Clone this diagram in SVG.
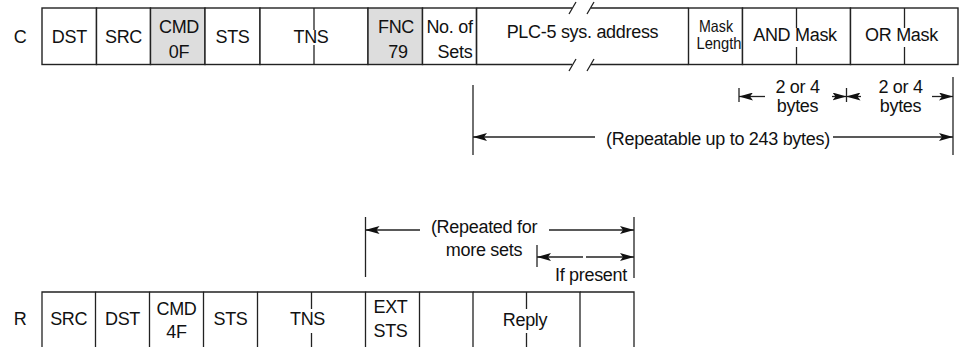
<svg xmlns="http://www.w3.org/2000/svg" width="959" height="347" viewBox="0 0 959 347">
<style>
text{font-family:"Liberation Sans",Arial,sans-serif;font-size:18px;letter-spacing:-0.3px;fill:#111;text-anchor:middle}
.sm{font-size:16.5px;letter-spacing:0}
.ln{stroke:#222;stroke-width:1.3;fill:none}
.box{stroke:#222;stroke-width:1.4;fill:#fff}
.gray{fill:#dddddd}
.end{text-anchor:end}
</style>
<defs>
<marker id="ah" viewBox="0 0 14 8" refX="14" refY="4" markerWidth="14" markerHeight="8" markerUnits="userSpaceOnUse" orient="auto">
<path d="M0,0 L14,4 L0,8 L3,4 z" fill="#111"/>
</marker>
</defs>
<rect width="959" height="347" fill="#fff"/>

<g id="label-C"><text x="20" y="43">C</text></g>
<g id="label-R"><text x="20" y="325">R</text></g>

<!-- Command row -->
<g id="c-dst"><rect class="box" x="42" y="8" width="54.5" height="56.5"/><text x="69.3" y="43">DST</text></g>
<g id="c-src"><rect class="box" x="96.5" y="8" width="54" height="56.5"/><text x="123.5" y="43">SRC</text></g>
<g id="c-cmd"><rect class="box gray" x="150.5" y="8" width="54.5" height="56.5"/><text x="179" y="33">CMD</text><text x="179" y="58">0F</text></g>
<g id="c-sts"><rect class="box" x="205" y="8" width="55" height="56.5"/><text x="232.5" y="43">STS</text></g>
<g id="c-tns"><rect class="box" x="260" y="8" width="108" height="56.5"/><line class="ln" x1="314" y1="8" x2="314" y2="30"/><line class="ln" x1="314" y1="45" x2="314" y2="64.5"/><text x="311" y="43">TNS</text></g>
<g id="c-fnc"><rect class="box gray" x="368" y="8" width="54.5" height="56.5"/><text x="396" y="33">FNC</text><text x="398" y="58">79</text></g>
<g id="c-nsets"><rect class="box" x="422.5" y="8" width="54" height="56.5"/><text x="449.5" y="33">No. of</text><text x="455" y="58">Sets</text></g>
<g id="c-plc">
<path class="ln" d="M476.5,8 H572 M591,8 H688.5 M476.5,64.5 H572 M591,64.5 H688.5 M476.5,8 V64.5"/>
<path class="ln" d="M569,14 L576,2 M587,14 L594,2 M569,71 L576,59 M587,71 L594,59"/>
<text x="582.5" y="38">PLC-5 sys. address</text>
</g>
<g id="c-masklen"><rect class="box" x="688.5" y="8" width="54" height="56.5"/><text class="sm" x="716" y="32" textLength="34" lengthAdjust="spacingAndGlyphs">Mask</text><text class="sm" x="719" y="49" textLength="45" lengthAdjust="spacingAndGlyphs">Length</text></g>
<g id="c-and"><rect class="box" x="742.5" y="8" width="108" height="56.5"/><line class="ln" x1="796.5" y1="8" x2="796.5" y2="28"/><line class="ln" x1="796.5" y1="47" x2="796.5" y2="64.5"/><text x="795" y="41">AND Mask</text></g>
<g id="c-or"><rect class="box" x="850.5" y="8" width="107.5" height="56.5"/><line class="ln" x1="904.5" y1="8" x2="904.5" y2="28"/><line class="ln" x1="904.5" y1="47" x2="904.5" y2="64.5"/><text x="901.5" y="41">OR Mask</text></g>

<!-- Reply row -->
<g id="r-src"><path class="ln" d="M42,347 V292 H95.5 V347"/><text x="68.7" y="325">SRC</text></g>
<g id="r-dst"><path class="ln" d="M95.5,292 H149.5 V347"/><text x="122.5" y="325">DST</text></g>
<g id="r-cmd"><path class="ln" d="M149.5,292 H203.5 V347"/><text x="176.5" y="315">CMD</text><text x="176.5" y="338">4F</text></g>
<g id="r-sts"><path class="ln" d="M203.5,292 H257.5 V347"/><text x="230.5" y="325">STS</text></g>
<g id="r-tns"><path class="ln" d="M257.5,292 H365.5 V347 M311.5,292 V309 M311.5,333 V347"/><text x="307.5" y="325">TNS</text></g>
<g id="r-extsts"><path class="ln" d="M365.5,292 H419.5 V347"/><text x="390.5" y="313">EXT</text><text x="390.5" y="337">STS</text></g>
<g id="r-blank"><path class="ln" d="M419.5,292 H473 V347"/></g>
<g id="r-reply"><path class="ln" d="M473,292 H580 V347 M526.5,292 V309 M526.5,333 V347"/><text x="525" y="326">Reply</text></g>
<g id="r-last"><path class="ln" d="M580,292 H634 V347"/></g>

<!-- Connectors / dimension lines -->
<g id="connectors">
<line class="ln" x1="473" y1="85" x2="473" y2="155"/>
<line class="ln" x1="739" y1="88" x2="739" y2="102"/>
<line class="ln" x1="846.5" y1="88" x2="846.5" y2="102"/>
<line class="ln" x1="953" y1="77" x2="953" y2="155"/>
<line class="ln" x1="765" y1="96.5" x2="739" y2="96.5" marker-end="url(#ah)"/>
<line class="ln" x1="832" y1="96.5" x2="846.5" y2="96.5" marker-end="url(#ah)"/>
<line class="ln" x1="861" y1="96.5" x2="846.5" y2="96.5" marker-end="url(#ah)"/>
<line class="ln" x1="932" y1="96.5" x2="953" y2="96.5" marker-end="url(#ah)"/>
<line class="ln" x1="595" y1="137" x2="473" y2="137" marker-end="url(#ah)"/>
<line class="ln" x1="833" y1="137" x2="953" y2="137" marker-end="url(#ah)"/>

<line class="ln" x1="365.5" y1="217" x2="365.5" y2="277"/>
<line class="ln" x1="634" y1="217" x2="634" y2="278"/>
<line class="ln" x1="420" y1="230" x2="365.5" y2="230" marker-end="url(#ah)"/>
<line class="ln" x1="549" y1="230" x2="634" y2="230" marker-end="url(#ah)"/>
<line class="ln" x1="537" y1="245" x2="537" y2="267"/>
<line class="ln" x1="583" y1="257" x2="537" y2="257" marker-end="url(#ah)"/>
<line class="ln" x1="586" y1="257" x2="634" y2="257" marker-end="url(#ah)"/>
</g>

<g id="dim-labels">
<text x="797.5" y="93">2 or 4</text>
<text x="797.5" y="112">bytes</text>
<text x="900.5" y="93">2 or 4</text>
<text x="900.5" y="112">bytes</text>
<text x="718" y="145">(Repeatable up to 243 bytes)</text>
<text x="484" y="233">(Repeated for</text>
<text x="484" y="256">more sets</text>
<text class="end" x="627" y="281">If present</text>
</g>
</svg>
